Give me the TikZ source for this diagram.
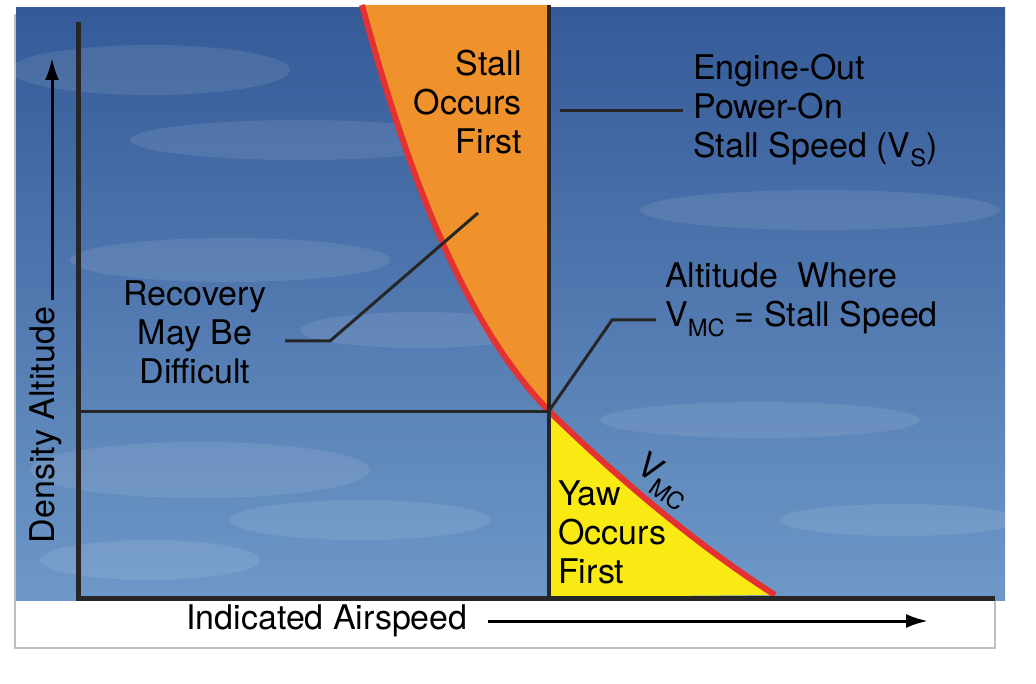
\documentclass[tikz,border=0pt]{standalone}
\usepackage{fontspec}
\setmainfont{TeX Gyre Heros}
\usetikzlibrary{positioning, arrows.meta}

\definecolor{skytop}{RGB}{52,90,152}
\definecolor{skybot}{RGB}{110,152,200}
\definecolor{stallorange}{RGB}{240,146,44}
\definecolor{yawyellow}{RGB}{250,234,20}
\definecolor{curvered}{RGB}{228,50,50}

\begin{document}
\begin{tikzpicture}[
  x=1pt, y=-1pt,
  label/.style={font=\fontsize{34}{39}\selectfont, inner sep=0pt},
  leader/.style={line width=3pt, draw=black!85},
  axis/.style={line width=5pt, draw=black!85}
]
\useasboundingbox (0,0) rectangle (1036,684);
% Background and sky
\fill[white] (0,0) rectangle (1036,684);
\draw[line width=2.5pt, draw=black!25] (15,15) rectangle (995,648);
\shade[top color=skytop, bottom color=skybot] (16,8) rectangle (1005,600);
\foreach \cx/\cy/\rx/\ry in {150/70/140/25, 300/140/170/20, 230/260/160/22, 420/330/120/18, 200/470/170/28, 360/520/130/20, 820/210/180/20, 760/420/160/18, 900/520/120/16, 150/560/110/20}
  \fill[white, opacity=0.09] (\cx,\cy) ellipse [x radius=\rx, y radius=\ry];

% Regions
\coordinate (top) at (362,5);
\coordinate (cross) at (549,411);
\coordinate (bottom) at (775,595);
\fill[stallorange] (top) .. controls (420,220) and (480,340) .. (cross) -- (549,5) -- cycle;
\fill[yawyellow] (cross) .. controls (640,500) and (720,560) .. (bottom) -- (549,597) -- cycle;
\draw[line width=6pt, draw=curvered] (top) .. controls (420,220) and (480,340) .. (cross)
  .. controls (640,500) and (720,560) .. (bottom);

% Axes and lines
\coordinate (origin) at (78,598);
\draw[axis] (78,22) -- (origin) -- (995,598);
\draw[line width=3.5pt, draw=black!85] (549,5) -- (549,598);
\draw[leader] (78,411) -- (cross);

% Labels
\node[label, align=right, anchor=north east] (stall) at (522,50) {Stall\\Occurs\\First};
\node[label, align=left, anchor=north west] (vs) at (693,54) {Engine-Out\\Power-On\\Stall Speed (V\textsubscript{S})};
\node[label, align=left, anchor=north west] (alt) at (665,263) {Altitude\ \ Where\\V\textsubscript{MC} = Stall Speed};
\node[label, align=center, anchor=north] (recov) at (195,281) {Recovery\\May Be\\Difficult};
\node[label, align=left, anchor=north west] (yaw) at (558,481) {Yaw\\Occurs\\First};
\node[label, rotate=-35] (vmc) at (663,482) {V\textsubscript{MC}};

% Leaders
\coordinate (vsa) at (560,111);
\coordinate (vsb) at (683,111);
\draw[leader] (vsa) -- (vsb);
\coordinate (alta) at (612,320);
\coordinate (altb) at (656,320);
\draw[leader] (cross) -- (alta) -- (altb);
\coordinate (reca) at (478,213);
\coordinate (recb) at (330,341);
\coordinate (recc) at (285,341);
\draw[leader] (reca) -- (recb) -- (recc);

% Axis titles
\node[label, rotate=90] (dens) at (46,425) {Density Altitude};
\coordinate (da) at (52,300);
\coordinate (db) at (52,58);
\draw[line width=3pt, -{Latex[length=22pt, width=14pt]}] (da) -- (db);
\node[label] (ias) at (327,621) {Indicated Airspeed};
\coordinate (ia) at (488,621);
\coordinate (ib) at (928,621);
\draw[line width=3pt, -{Latex[length=22pt, width=14pt]}] (ia) -- (ib);
\end{tikzpicture}
\end{document}
